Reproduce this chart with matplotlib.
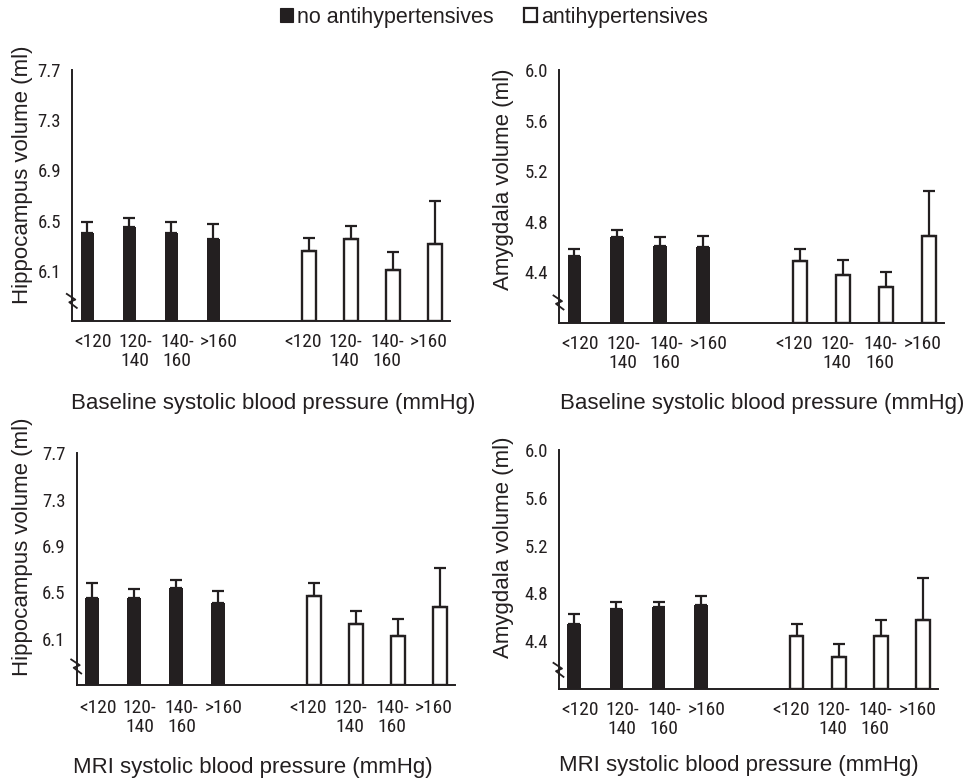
import matplotlib
matplotlib.use("Agg")
import matplotlib.pyplot as plt
import matplotlib.transforms as mtransforms
from matplotlib import font_manager as fm
from matplotlib.patches import Patch
import numpy as np

# ---------------- data ----------------
bp_categories = ["<120", "120-\n140", "140-\n160", ">160"]
series_names = ["no antihypertensives", "antihypertensives"]

hippo_ticks = [6.1, 6.5, 6.9, 7.3, 7.7]
amyg_ticks = [4.4, 4.8, 5.2, 5.6, 6.0]

# Hippocampus, baseline SBP
hip_base_no = [6.40, 6.45, 6.40, 6.35]
hip_base_no_err = [0.09, 0.07, 0.09, 0.12]
hip_base_yes = [6.26, 6.35, 6.11, 6.31]
hip_base_yes_err = [0.10, 0.11, 0.14, 0.35]

# Amygdala, baseline SBP
amy_base_no = [4.53, 4.68, 4.61, 4.60]
amy_base_no_err = [0.05, 0.05, 0.065, 0.09]
amy_base_yes = [4.49, 4.38, 4.28, 4.69]
amy_base_yes_err = [0.09, 0.12, 0.12, 0.35]

# Hippocampus, MRI SBP
hip_mri_no = [6.45, 6.45, 6.54, 6.41]
hip_mri_no_err = [0.13, 0.08, 0.07, 0.10]
hip_mri_yes = [6.47, 6.23, 6.12, 6.37]
hip_mri_yes_err = [0.11, 0.11, 0.15, 0.34]

# Amygdala, MRI SBP
amy_mri_no = [4.54, 4.67, 4.69, 4.70]
amy_mri_no_err = [0.09, 0.06, 0.04, 0.08]
amy_mri_yes = [4.44, 4.27, 4.44, 4.58]
amy_mri_yes_err = [0.10, 0.11, 0.14, 0.35]

hippo_label = "Hippocampus volume (ml)"
amyg_label = "Amygdala volume (ml)"
base_title = "Baseline systolic blood pressure (mmHg)"
mri_title = "MRI systolic blood pressure (mmHg)"

# ---------------- style ----------------
DARK = "#231f20"
W, H = 973, 783
REG = ["Liberation Sans", "DejaVu Sans"]

fig = plt.figure(figsize=(W / 100, H / 100), dpi=100)
renderer = fig.canvas.get_renderer()


def find_narrow_font():
    prefs = ["Liberation Sans Narrow", "Roboto Condensed", "Open Sans Condensed",
             "Noto Sans Condensed", "DejaVu Sans"]
    found = {}
    for f in fm.fontManager.ttflist:
        stretch = str(f.stretch).lower()
        is_narrow = ("narrow" in f.name.lower() or "condensed" in f.name.lower()
                     or "condensed" in stretch or "narrow" in f.fname.lower()
                     or "condensed" in f.fname.lower())
        if not is_narrow or f.style != "normal":
            continue
        w = f.weight if isinstance(f.weight, int) else 400
        if w > 500 or w < 300:
            continue
        if "bold" in f.fname.lower() or "light" in f.fname.lower() or "italic" in f.fname.lower():
            continue
        found.setdefault(f.name, f.fname)
    for p in prefs:
        if p in found:
            return fm.FontProperties(fname=found[p])
    if found:
        return fm.FontProperties(fname=sorted(found.values())[0])
    return fm.FontProperties(family="Liberation Sans")


NARROW_FP = find_narrow_font()


def fit_size(sample, target_px, max_pt):
    t = fig.text(0, 0, sample, fontproperties=NARROW_FP.copy())
    t.set_fontsize(10)
    w = t.get_window_extent(renderer).width
    t.remove()
    return min(max_pt, 10 * target_px / w)


XT_SIZE = fit_size("<120", 41.5, 14.0)
YT_SIZE = fit_size("7.7", 25.0, 13.5)


def draw_panel(ax, no_vals, no_err, yes_vals, yes_err, ticks, break_level, xpad):
    ncat = len(bp_categories)
    x_no = np.arange(ncat)
    x_yes = np.arange(ncat) + ncat + 1
    off = 0.138
    bw = 0.326
    ymin = ticks[0] - (ticks[1] - ticks[0])
    ymax = ticks[-1]
    no_vals = np.asarray(no_vals)
    yes_vals = np.asarray(yes_vals)
    ax.bar(x_no - off, no_vals - ymin, bottom=ymin, width=bw, color=DARK,
           edgecolor=DARK, linewidth=0, zorder=2)
    ax.bar(x_yes + off, yes_vals - ymin, bottom=ymin, width=bw, color="white",
           edgecolor=DARK, linewidth=1.7, zorder=2)
    ax.errorbar(x_no - off, no_vals, yerr=[np.zeros(ncat), no_err], fmt="none",
                ecolor=DARK, elinewidth=1.6, capsize=4.3, capthick=1.6, zorder=3)
    ax.errorbar(x_yes + off, yes_vals, yerr=[np.zeros(ncat), yes_err], fmt="none",
                ecolor=DARK, elinewidth=1.6, capsize=4.3, capthick=1.6, zorder=3)

    ax.set_xlim(-0.5, 2 * ncat + 0.5)
    ax.set_ylim(ymin, ymax)
    ax.set_xticks(list(x_no) + list(x_yes))
    ax.set_xticklabels(bp_categories + bp_categories, color=DARK)
    for lab in ax.get_xticklabels():
        lab.set_fontproperties(NARROW_FP.copy())
        lab.set_fontsize(XT_SIZE)
        lab.set_linespacing(1.1)
    ax.set_yticks(ticks)
    ax.set_yticklabels([f"{t:.1f}" for t in ticks], color=DARK)
    for lab in ax.get_yticklabels():
        lab.set_fontproperties(NARROW_FP.copy())
        lab.set_fontsize(YT_SIZE)
    ax.tick_params(axis="both", length=0)
    ax.tick_params(axis="x", pad=xpad)
    ax.tick_params(axis="y", pad=8.0)
    for s in ("top", "right"):
        ax.spines[s].set_visible(False)
    for s in ("left", "bottom"):
        ax.spines[s].set_color(DARK)
        ax.spines[s].set_linewidth(1.4)
    ax.set_facecolor("none")

    # axis break mark (zigzag) on the y axis
    bt = mtransforms.blended_transform_factory(ax.transAxes, ax.transData)
    trans = mtransforms.Affine2D() + mtransforms.ScaledTranslation(0, break_level, bt)
    ax.plot([-5.5, 3, -3, 4.5], [7, 1.3, -1.3, -7], color=DARK, lw=1.3,
            transform=trans, clip_on=False, zorder=4)


def px_axes(left, top, right, bottom):
    return fig.add_axes([left / W, 1 - bottom / H, (right - left) / W, (bottom - top) / H])


ax1 = px_axes(72.3, 70, 450, 321)
draw_panel(ax1, hip_base_no, hip_base_no_err, hip_base_yes, hip_base_yes_err,
           hippo_ticks, 5.86, 8.5)
ax2 = px_axes(559, 70, 944.3, 322.7)
draw_panel(ax2, amy_base_no, amy_base_no_err, amy_base_yes, amy_base_yes_err,
           amyg_ticks, 4.16, 8.5)
ax3 = px_axes(76.7, 453.3, 455, 685)
draw_panel(ax3, hip_mri_no, hip_mri_no_err, hip_mri_yes, hip_mri_yes_err,
           hippo_ticks, 5.86, 10.0)
ax4 = px_axes(559, 450, 938.3, 689)
draw_panel(ax4, amy_mri_no, amy_mri_no_err, amy_mri_yes, amy_mri_yes_err,
           amyg_ticks, 4.16, 8.5)


def ftext(x, y, s, **kw):
    fig.text(x / W, 1 - y / H, s, family=REG, color=DARK, **kw)


# y-axis labels
ftext(23, 175, hippo_label, rotation=90, ha="center", va="center", fontsize=16)
ftext(504, 179, amyg_label, rotation=90, ha="center", va="center", fontsize=16)
ftext(23, 547, hippo_label, rotation=90, ha="center", va="center", fontsize=16)
ftext(503, 547, amyg_label, rotation=90, ha="center", va="center", fontsize=16)

# x-axis titles
ftext(273, 403, base_title, ha="center", va="center", fontsize=16)
ftext(762, 403, base_title, ha="center", va="center", fontsize=16)
ftext(253, 767, mri_title, ha="center", va="center", fontsize=16)
ftext(739, 766, mri_title, ha="center", va="center", fontsize=16)

# legend
handles = [Patch(facecolor=DARK, edgecolor=DARK, linewidth=0.8),
           Patch(facecolor="white", edgecolor=DARK, linewidth=1.6)]
fig.legend(handles, series_names, loc="center", bbox_to_anchor=(494 / W, 1 - 17 / H),
           ncol=2, frameon=False, handlelength=0.62, handleheight=0.62,
           handletextpad=0.2, columnspacing=1.4,
           prop={"family": REG, "size": 15.5}, labelcolor=DARK)

fig.savefig("out.png", dpi=100)
